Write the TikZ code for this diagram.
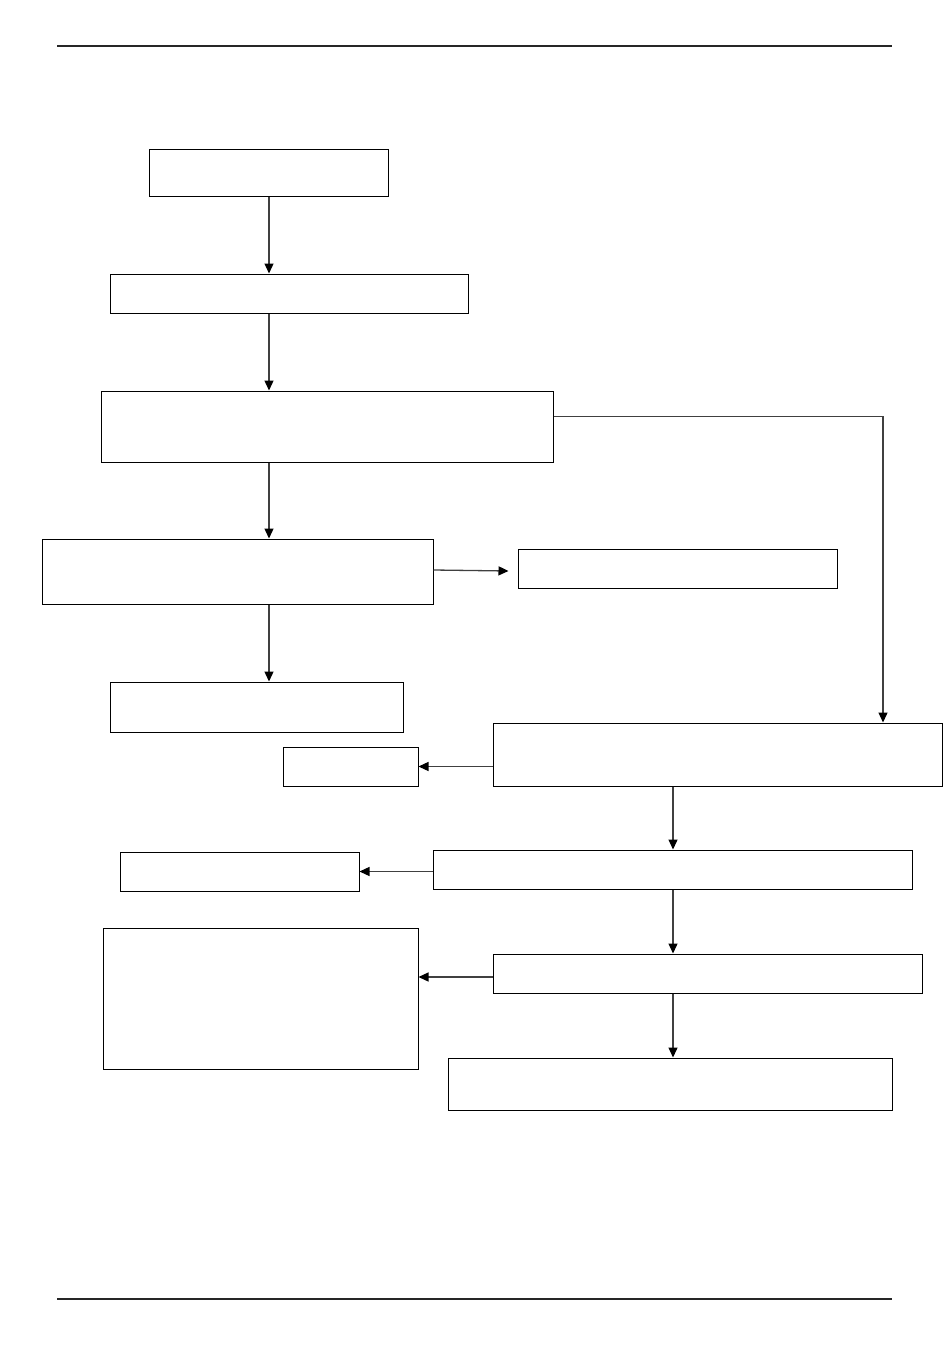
\documentclass[tikz,border=0pt]{standalone}
\usetikzlibrary{arrows.meta}
\begin{document}
\begin{tikzpicture}[x=1pt,y=-1pt,
  boxnode/.style={draw=black,line width=1pt,inner sep=0pt,rectangle},
  conn/.style={draw=black!75,line width=1.3pt,-{Triangle[length=10pt,width=9pt,color=black]}},
  rule/.style={draw=black!85,line width=1.1pt}]
\useasboundingbox (0,0) rectangle (950,1359);
\coordinate (hl) at (57,46); \coordinate (hr) at (892,46);
\coordinate (fl) at (57,1299); \coordinate (fr) at (892,1299);
\draw[rule] (hl) -- (hr);
\draw[rule] (fl) -- (fr);
\node[boxnode,minimum width=239pt,minimum height=47pt] (A) at (268.5,173.5) {};
\node[boxnode,minimum width=358pt,minimum height=39pt] (B) at (289,293.5) {};
\node[boxnode,minimum width=452pt,minimum height=71pt] (C) at (327,426.5) {};
\node[boxnode,minimum width=391pt,minimum height=65pt] (D) at (237.5,571.5) {};
\node[boxnode,minimum width=319pt,minimum height=39pt] (E) at (677.5,568.5) {};
\node[boxnode,minimum width=293pt,minimum height=50pt] (F) at (256.5,707) {};
\node[boxnode,minimum width=449pt,minimum height=63pt] (G) at (717.5,754.5) {};
\node[boxnode,minimum width=135pt,minimum height=39pt] (H) at (350.5,766.5) {};
\node[boxnode,minimum width=479pt,minimum height=39pt] (I) at (672.5,869.5) {};
\node[boxnode,minimum width=239pt,minimum height=39pt] (J) at (239.5,871.5) {};
\node[boxnode,minimum width=315pt,minimum height=141pt] (K) at (260.5,998.5) {};
\node[boxnode,minimum width=429pt,minimum height=39pt] (L) at (707.5,973.5) {};
\node[boxnode,minimum width=444pt,minimum height=52pt] (M) at (670,1084) {};
\coordinate (s) at (269,0);
\coordinate (t) at (673,0);
\coordinate (r) at (883,416.5);
\draw[conn] (s |- A.south) -- (s |- B.north);
\draw[conn] (s |- B.south) -- (s |- C.north);
\draw[conn] (s |- C.south) -- (s |- D.north);
\draw[conn] (s |- D.south) -- (s |- F.north);
\draw[conn] ([yshift=1.5pt]D.east) -- ([xshift=-9pt,yshift=0.5pt]E.west |- D.east);
\draw[conn] (C.east |- r) -- (r) -- (r |- G.north);
\draw[conn] (G.west |- H.east) -- (H.east);
\draw[conn] (t |- G.south) -- (t |- I.north);
\draw[conn] (I.west |- J.east) -- (J.east);
\draw[conn] (t |- I.south) -- (t |- L.north);
\draw[conn] ([yshift=-3.5pt]L.west) -- ([yshift=-3.5pt]K.east |- L.west);
\draw[conn] (t |- L.south) -- (t |- M.north);
\end{tikzpicture}
\end{document}
